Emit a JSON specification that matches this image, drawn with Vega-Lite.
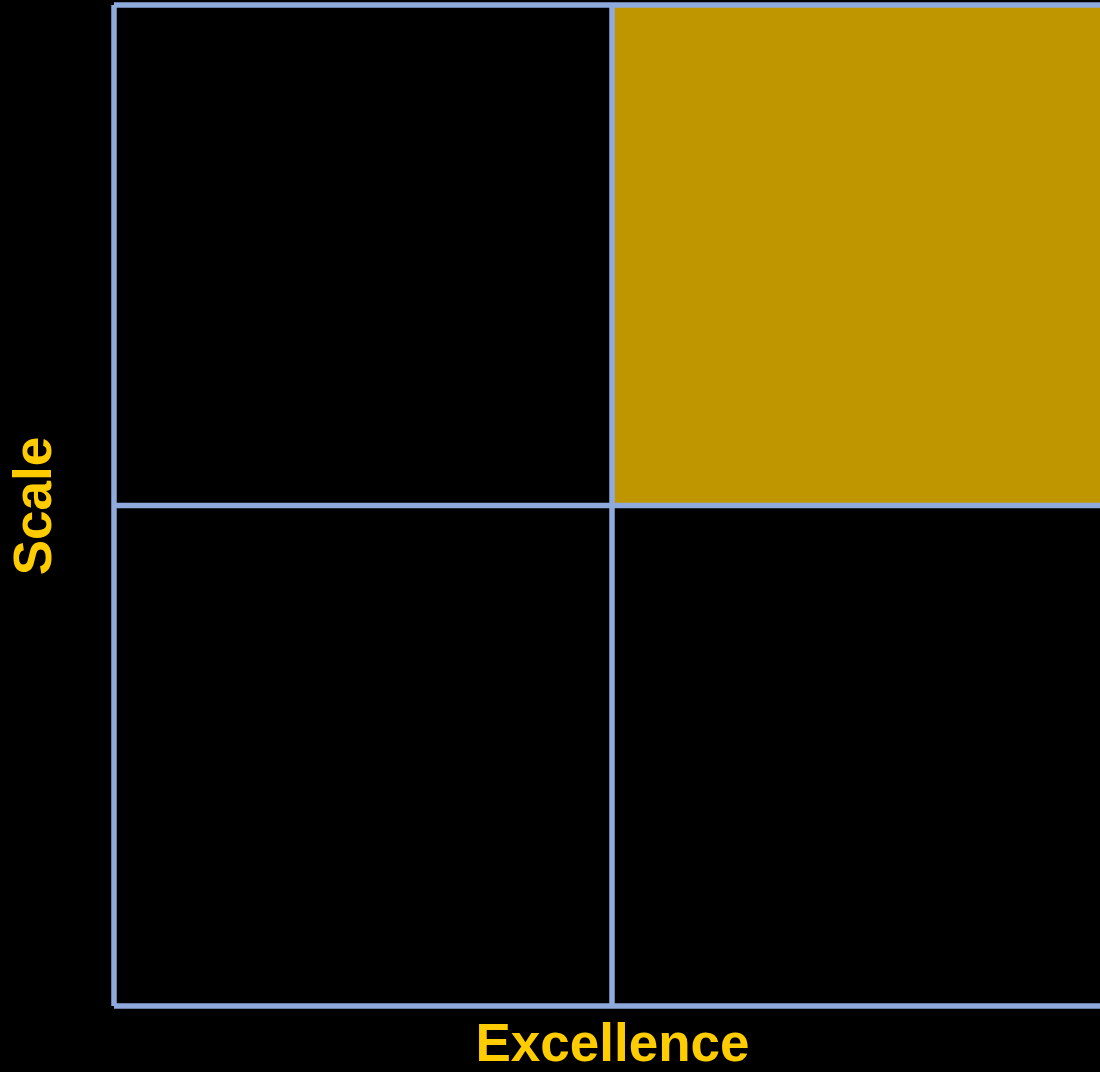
{
  "$schema": "https://vega.github.io/schema/vega-lite/v6.json",
  "autosize": "none",
  "width": 996,
  "height": 1001,
  "padding": {"left": 114, "top": 5, "right": 0, "bottom": 66},
  "background": "black",
  "config": {
    "view": {"stroke": null},
    "axis": {"labels": false, "ticks": false, "domain": false, "grid": false,
      "titleFont": "Liberation Sans", "titleFontSize": 53, "titleFontWeight": "bold", "titleColor": "#FFCC00"},
    "axisX": {"titlePadding": 12},
    "axisY": {"titlePadding": 53}
  },
  "layer": [
    {
      "data": {"values": [{"x": 1, "x2": 2, "y": 1, "y2": 2}]},
      "mark": {"type": "rect", "color": "#BF9600"},
      "encoding": {
        "x": {"field": "x", "type": "quantitative", "title": "Excellence",
          "scale": {"domain": [0, 2], "nice": false, "zero": false}},
        "x2": {"field": "x2"},
        "y": {"field": "y", "type": "quantitative", "title": "Scale",
          "scale": {"domain": [0, 2], "nice": false, "zero": false}},
        "y2": {"field": "y2"}
      }
    },
    {
      "data": {"values": [{"x": 0}, {"x": 1}, {"x": 2}]},
      "mark": {"type": "rule", "color": "#8FAADC", "strokeWidth": 5.5},
      "encoding": {
        "x": {"field": "x", "type": "quantitative", "title": "Excellence"}
      }
    },
    {
      "data": {"values": [{"y": 0}, {"y": 1}, {"y": 2}]},
      "mark": {"type": "rule", "color": "#8FAADC", "strokeWidth": 5.5},
      "encoding": {
        "y": {"field": "y", "type": "quantitative", "title": "Scale"}
      }
    }
  ]
}
